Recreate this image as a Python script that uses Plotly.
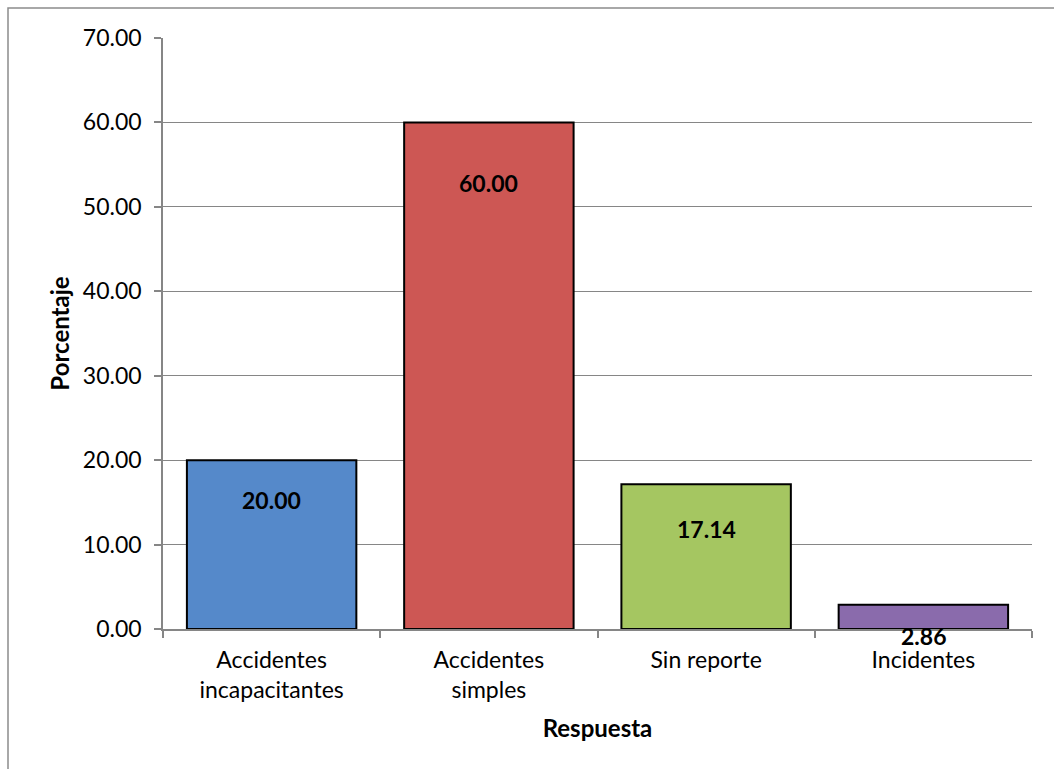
import plotly.graph_objects as go

# Response categories and their percentage share
categorias = ["Accidentes<br>incapacitantes", "Accidentes<br>simples", "Sin reporte", "Incidentes"]
porcentajes = [20.00, 60.00, 17.14, 2.86]
colores = ["#5589CA", "#CD5754", "#A5C661", "#8A6BAC"]
ejes_y = [0, 10, 20, 30, 40, 50, 60, 70]

# vertical pixel offsets of the value labels relative to each bar top
desplazamiento_etiqueta = [-40, -61, -45, -31]

W, H = 1054, 769
L, R, T, B = 163, 22, 38, 140
pw, ph = W - L - R, H - T - B
FUENTE = "Lato, sans-serif"

fig = go.Figure()
fig.add_trace(go.Bar(
    x=categorias,
    y=porcentajes,
    marker=dict(color=colores, line=dict(color="#000000", width=2)),
    width=0.78,
    hoverinfo="x+y",
))

for cat, val, dy in zip(categorias, porcentajes, desplazamiento_etiqueta):
    fig.add_annotation(
        x=cat, y=val, text=f"<b>{val:.2f}</b>", showarrow=False,
        yshift=dy, font=dict(family=FUENTE, size=23, color="#000000"),
    )

# outer chart frame (only top and left edges fall inside the page)
fig.add_shape(
    type="rect", xref="paper", yref="paper",
    x0=(8 - L) / pw, x1=(W + 20 - L) / pw,
    y0=-(B + 20) / ph, y1=(ph + T - 8) / ph,
    line=dict(color="#8C8C8C", width=1.5), fillcolor="rgba(0,0,0,0)", layer="above",
)

fig.update_layout(
    width=W, height=H,
    margin=dict(l=L, r=R, t=T, b=B, autoexpand=False),
    paper_bgcolor="#FFFFFF", plot_bgcolor="#FFFFFF",
    showlegend=False,
    font=dict(family=FUENTE, size=23, color="#000000"),
    xaxis=dict(
        type="category",
        tickson="boundaries",
        ticks="outside", ticklen=7, tickcolor="#868686", tickwidth=1.5,
        showline=True, linecolor="#868686", linewidth=1.5,
        showgrid=False,
        ticklabelstandoff=10,
        tickfont=dict(family=FUENTE, size=23, color="#000000"),
        title=dict(text="<b>Respuesta</b>", standoff=18,
                   font=dict(family=FUENTE, size=24, color="#000000")),
    ),
    yaxis=dict(
        range=[0, 70],
        tickvals=ejes_y,
        tickformat=".2f",
        ticks="outside", ticklen=7, tickcolor="#868686", tickwidth=1.5,
        showline=True, linecolor="#868686", linewidth=1.5,
        showgrid=True, gridcolor="#868686", gridwidth=1.2,
        zeroline=False,
        ticklabelstandoff=8,
        tickfont=dict(family=FUENTE, size=23, color="#000000"),
        title=dict(text="<b>Porcentaje</b>", standoff=6,
                   font=dict(family=FUENTE, size=24, color="#000000")),
    ),
)

fig.write_html("out.html")
